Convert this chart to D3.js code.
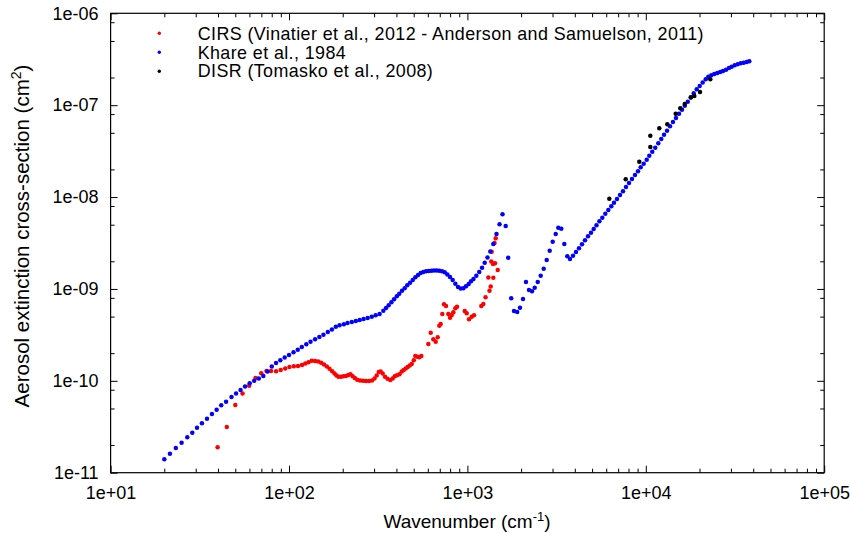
<!DOCTYPE html>
<html>
<head>
<meta charset="utf-8">
<script src="https://cdn.jsdelivr.net/npm/d3@7"></script>
<style>
  body { margin: 0; background: #fff; }
  text { font-family: "Liberation Sans", Arial, Helvetica, sans-serif; fill: #000; }
</style>
</head>
<body>
<svg id="chart" width="850" height="533"></svg>
<script>
// Aerosol extinction cross-section (cm^2) versus wavenumber (cm^-1)

// CIRS: Vinatier et al., 2012 - Anderson and Samuelson, 2011
const cirs = [
  [39.8,1.89e-11],[44.8,3.14e-11],[50.0,5.46e-11],[54.9,7.28e-11],[59.8,8.83e-11],[64.9,1.07e-10],
  [69.9,1.21e-10],[74.8,1.28e-10],[79.3,1.28e-10],[84.6,1.27e-10],[89.8,1.31e-10],[95.2,1.36e-10],
  [100.6,1.41e-10],[106.4,1.44e-10],[112.3,1.45e-10],[118.3,1.49e-10],[123.4,1.54e-10],[128.6,1.59e-10],
  [134.2,1.65e-10],[139.9,1.64e-10],[145.8,1.62e-10],[151.5,1.57e-10],[157.1,1.51e-10],[162.9,1.43e-10],
  [168.7,1.35e-10],[174.6,1.27e-10],[179.9,1.20e-10],[184.6,1.14e-10],[189.5,1.11e-10],[195.6,1.11e-10],
  [202.1,1.12e-10],[208.7,1.13e-10],[215.0,1.16e-10],[221.2,1.18e-10],[227.6,1.12e-10],[233.8,1.07e-10],
  [241.2,1.03e-10],[250.0,1.01e-10],[259.9,1.00e-10],[270.2,9.96e-11],[280.8,9.96e-11],[291.9,1.01e-10],
  [301.5,1.06e-10],[310.1,1.14e-10],[318.6,1.25e-10],[326.6,1.26e-10],[335.1,1.20e-10],[345.2,1.11e-10],
  [356.6,1.05e-10],[369.7,1.02e-10],[381.3,1.06e-10],[391.3,1.12e-10],[403.1,1.15e-10],[416.4,1.18e-10],
  [428.3,1.26e-10],[439.5,1.31e-10],[451.0,1.36e-10],[462.8,1.41e-10],[474.9,1.47e-10],[487.4,1.52e-10],
  [500.7,1.67e-10],[510.5,1.86e-10],[524.1,1.83e-10],[537.8,1.81e-10],[551.8,1.86e-10],[603.9,2.52e-10],
  [622.6,3.34e-10],[644.1,2.83e-10],[664.3,2.67e-10],[681.7,2.98e-10],[696.0,3.98e-10],[708.6,4.15e-10],
  [723.5,5.34e-10],[739.4,6.81e-10],[759.0,6.52e-10],[781.6,5.34e-10],[799.1,4.86e-10],[816.9,5.21e-10],
  [833.7,5.57e-10],[855.7,6.16e-10],[874.7,6.41e-10],[966.0,5.75e-10],[991.1,5.43e-10],[1021,4.67e-10],
  [1057,4.99e-10],[1089,5.17e-10],[1197,6.52e-10],[1228,6.86e-10],[1264,8.11e-10],[1310,1.33e-9],
  [1330,9.57e-10],[1351,1.06e-9],[1361,1.99e-9],[1368,2.54e-9],[1392,1.87e-9],[1397,1.32e-9],
  [1419,3.16e-9],[1428,1.90e-9],[1441,3.56e-9],[1479,1.61e-9]
];

// Khare et al., 1984
const khare = [
  [20.0,1.40e-11],[21.5,1.61e-11],[23.2,1.86e-11],[25.0,2.12e-11],[26.9,2.43e-11],[28.7,2.73e-11],
  [30.5,3.09e-11],[32.5,3.45e-11],[34.7,3.87e-11],[37.0,4.36e-11],[39.3,4.85e-11],[41.7,5.42e-11],
  [44.4,5.93e-11],[47.6,6.67e-11],[50.5,7.28e-11],[53.5,7.95e-11],[56.7,8.68e-11],[60.2,9.40e-11],
  [63.8,1.00e-10],[67.7,1.06e-10],[71.8,1.13e-10],[75.8,1.26e-10],[80.1,1.43e-10],[84.6,1.56e-10],
  [89.4,1.67e-10],[94.6,1.79e-10],[100,1.91e-10],[106,2.04e-10],[112,2.18e-10],[118,2.33e-10],
  [125,2.50e-10],[132,2.67e-10],[140,2.83e-10],[148,3.00e-10],[156,3.18e-10],[165,3.40e-10],
  [174,3.62e-10],[183,3.87e-10],[192,4.02e-10],[203,4.13e-10],[213,4.25e-10],[225,4.37e-10],
  [237,4.48e-10],[249,4.59e-10],[262,4.71e-10],[276,4.83e-10],[291,4.99e-10],[306,5.17e-10],
  [322,5.34e-10],[338,5.80e-10],[350,6.20e-10],[362,6.64e-10],[375,7.16e-10],[388,7.71e-10],
  [402,8.32e-10],[415,8.88e-10],[430,9.57e-10],[445,1.02e-9],[460,1.10e-9],[477,1.17e-9],
  [494,1.25e-9],[511,1.34e-9],[529,1.42e-9],[547,1.49e-9],[566,1.53e-9],[586,1.56e-9],
  [607,1.57e-9],[628,1.58e-9],[650,1.59e-9],[673,1.59e-9],[696,1.58e-9],[721,1.56e-9],
  [746,1.52e-9],[772,1.44e-9],[799,1.35e-9],[827,1.25e-9],[856,1.14e-9],[886,1.05e-9],
  [917,1.01e-9],[949,1.02e-9],[982,1.07e-9],[1017,1.13e-9],[1048,1.21e-9],[1082,1.28e-9],
  [1122,1.39e-9],[1165,1.53e-9],[1208,1.70e-9],[1250,1.93e-9],[1296,2.20e-9],[1344,2.56e-9],
  [1397,3.08e-9],[1456,3.96e-9],[1514,5.05e-9],[1573,6.49e-9],[1639,4.84e-9],[1693,2.19e-9],
  [1760,7.91e-10],[1825,5.75e-10],[1902,5.61e-10],[1971,6.25e-10],[2050,7.77e-10],[2131,1.19e-9],
  [2214,9.74e-10],[2302,9.43e-10],[2384,1.03e-9],[2479,1.19e-9],[2576,1.39e-9],[2677,1.66e-9],
  [2783,2.07e-9],[2893,2.61e-9],[3007,3.27e-9],[3126,3.96e-9],[3232,4.64e-9],[3360,4.53e-9],
  [3493,3.08e-9],[3631,2.27e-9],[3759,2.12e-9],[3908,2.30e-9],[4062,2.52e-9],[4222,2.77e-9],
  [4389,3.06e-9],[4562,3.38e-9],[4742,3.74e-9],[4929,4.10e-9],[5105,4.49e-9],[5291,4.93e-9],
  [5494,5.45e-9],[5704,5.97e-9],[5929,6.59e-9],[6164,7.23e-9],[6407,7.94e-9],[6634,8.69e-9],
  [6896,9.53e-9],[7168,1.05e-8],[7451,1.16e-8],[7745,1.29e-8],[8051,1.42e-8],[8369,1.57e-8],
  [8699,1.74e-8],[9042,1.91e-8],[9363,2.11e-8],[9732,2.31e-8],[10120,2.55e-8],[10460,2.82e-8],
  [10870,3.12e-8],[11300,3.45e-8],[11750,3.85e-8],[12210,4.29e-8],[12650,4.77e-8],[13150,5.28e-8],
  [13670,5.89e-8],[14200,6.56e-8],[14770,7.25e-8],[15350,8.08e-8],[15950,8.93e-8],[16540,9.87e-8],
  [17190,1.09e-7],[17920,1.22e-7],[18560,1.35e-7],[19290,1.49e-7],[20050,1.62e-7],[20840,1.76e-7],
  [21670,1.91e-7],[22410,2.04e-7],[23290,2.12e-7],[24210,2.19e-7],[25170,2.24e-7],[26160,2.30e-7],
  [27090,2.36e-7],[28160,2.43e-7],[29270,2.54e-7],[30300,2.62e-7],[31500,2.72e-7],[32740,2.79e-7],
  [34040,2.86e-7],[35380,2.90e-7],[36780,2.95e-7],[38030,3.00e-7]
];

// DISR: Tomasko et al., 2008
const disr = [
  [6244,9.60e-9],[7716,1.56e-8],[9193,2.43e-8],[10600,3.51e-8],[10600,4.66e-8],[11900,5.60e-8],
  [13200,6.21e-8],[14710,8.06e-8],[15610,9.27e-8],[16530,1.03e-7],[17850,1.21e-7],[18700,1.26e-7],
  [20130,1.39e-7],[22990,1.91e-7]
];

const seriesNames = [
  "CIRS (Vinatier et al., 2012 - Anderson and Samuelson, 2011)",
  "Khare et al., 1984",
  "DISR (Tomasko et al., 2008)"
];
const seriesColors = ["#ff0000", "#0000ff", "#000000"];

const xTickValues = [1e1, 1e2, 1e3, 1e4, 1e5];
const xTickLabels = ["1e+01", "1e+02", "1e+03", "1e+04", "1e+05"];
const yTickValues = [1e-11, 1e-10, 1e-9, 1e-8, 1e-7, 1e-6];
const yTickLabels = ["1e-11", "1e-10", "1e-09", "1e-08", "1e-07", "1e-06"];

const W = 850, H = 533;
const plot = { left: 110.6, right: 824.2, top: 13.3, bottom: 472.7 };
const TICK_FONT = 18;
const KEY_FONT = 17.9;
const XTITLE_FONT = 19;
const YTITLE_FONT = 20.5;

const svg = d3.select("#chart");
svg.append("rect").attr("width", W).attr("height", H).attr("fill", "#fff");

const x = d3.scaleLog().domain([1e1, 1e5]).range([plot.left, plot.right]);
const y = d3.scaleLog().domain([1e-11, 1e-6]).range([plot.bottom, plot.top]);

const mant = v => Math.round(v / Math.pow(10, Math.floor(Math.log10(v) + 1e-9)));
const xMinor = x.ticks().filter(v => mant(v) !== 1);
const yMinor = y.ticks().filter(v => [2, 5, 8].includes(mant(v)));

function styleAxis(g) {
  g.select(".domain").remove();
  g.selectAll(".tick line").attr("stroke", "#000").attr("stroke-width", 1);
  g.selectAll(".tick text").attr("font-size", TICK_FONT).attr("font-family", null);
}

// bottom / top axes (ticks pointing inward)
svg.append("g").attr("transform", `translate(0,${plot.bottom})`)
  .call(d3.axisBottom(x).tickValues(xTickValues).tickSize(-7).tickPadding(14)
    .tickFormat((d, i) => xTickLabels[i]))
  .call(styleAxis);
svg.append("g").attr("transform", `translate(0,${plot.bottom})`)
  .call(d3.axisBottom(x).tickValues(xMinor).tickSize(-4).tickFormat(""))
  .call(styleAxis);
svg.append("g").attr("transform", `translate(0,${plot.top})`)
  .call(d3.axisTop(x).tickValues(xTickValues).tickSize(-7).tickFormat(""))
  .call(styleAxis);
svg.append("g").attr("transform", `translate(0,${plot.top})`)
  .call(d3.axisTop(x).tickValues(xMinor).tickSize(-4).tickFormat(""))
  .call(styleAxis);

// left / right axes
svg.append("g").attr("transform", `translate(${plot.left},0)`)
  .call(d3.axisLeft(y).tickValues(yTickValues).tickSize(-7).tickPadding(12)
    .tickFormat((d, i) => yTickLabels[i]))
  .call(styleAxis);
svg.append("g").attr("transform", `translate(${plot.left},0)`)
  .call(d3.axisLeft(y).tickValues(yMinor).tickSize(-4).tickFormat(""))
  .call(styleAxis);
svg.append("g").attr("transform", `translate(${plot.right},0)`)
  .call(d3.axisRight(y).tickValues(yTickValues).tickSize(-7).tickFormat(""))
  .call(styleAxis);
svg.append("g").attr("transform", `translate(${plot.right},0)`)
  .call(d3.axisRight(y).tickValues(yMinor).tickSize(-4).tickFormat(""))
  .call(styleAxis);

// frame
svg.append("rect")
  .attr("x", plot.left).attr("y", plot.top)
  .attr("width", plot.right - plot.left).attr("height", plot.bottom - plot.top)
  .attr("fill", "none").attr("stroke", "#000").attr("stroke-width", 1.2);

// data points
const R = 2.25;
[cirs, khare, disr].forEach((data, k) => {
  svg.append("g").selectAll("circle").data(data).join("circle")
    .attr("cx", d => x(d[0])).attr("cy", d => y(d[1]))
    .attr("r", R).attr("fill", seriesColors[k]);
});

// legend
const legend = svg.append("g");
seriesNames.forEach((name, k) => {
  const ly = 33.3 + k * 18.95;
  legend.append("circle").attr("cx", 159.3).attr("cy", ly).attr("r", 1.7).attr("fill", seriesColors[k]);
  legend.append("text").attr("x", 197.7).attr("y", ly).attr("dy", "0.35em")
    .attr("font-size", KEY_FONT).attr("letter-spacing", 0.4).text(name);
});

// axis titles
const xt = svg.append("text").attr("x", 467).attr("y", 528)
  .attr("text-anchor", "middle").attr("font-size", XTITLE_FONT);
xt.append("tspan").text("Wavenumber (cm");
xt.append("tspan").attr("dy", -7).attr("font-size", 13).text("-1");
xt.append("tspan").attr("dy", 7).text(")");

const yt = svg.append("text").attr("transform", `translate(29,236) rotate(-90)`)
  .attr("text-anchor", "middle").attr("font-size", YTITLE_FONT);
yt.append("tspan").text("Aerosol extinction cross-section (cm");
yt.append("tspan").attr("dy", -8).attr("font-size", 14).text("2");
yt.append("tspan").attr("dy", 8).text(")");
</script>
</body>
</html>
